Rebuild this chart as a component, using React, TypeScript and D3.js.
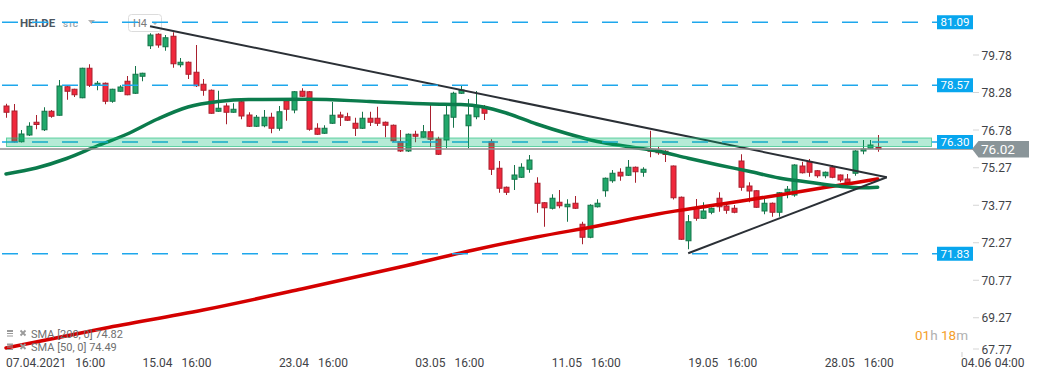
import React from 'react';
import * as d3 from 'd3';

// ---- data ----
const opens = [77.74,77.54,76.31,76.58,77.09,76.79,77.53,77.37,78.51,78.41,78.07,79.25,78.57,78.65,77.93,78.33,78.73,78.25,78.93,80.15,80.61,80.11,80.53,79.39,79.49,79.09,78.61,78.37,77.53,77.74,77.49,77.91,77.38,76.93,76.95,77.29,76.85,77.95,77.58,78.33,78.31,76.85,76.65,77.05,77.38,77.31,77.05,76.85,77.25,77.25,77.09,76.97,76.31,75.94,76.61,76.49,76.71,76.42,76.38,77.29,78.25,76.95,77.31,77.65,76.31,75.25,74.49,74.81,74.89,75.21,74.65,73.87,73.65,73.89,73.71,73.85,73.01,72.49,73.71,74.35,74.75,75.09,74.97,75.29,75.09,75.98,75.97,75.93,75.34,74.09,72.35,73.65,73.25,73.49,74.05,73.74,73.65,75.54,74.54,74.35,73.54,73.85,73.49,74.31,74.18,75.34,75.51,75.15,74.95,75.29,74.98,74.82,75.05,75.94,76.05,76.08];
const highs = [77.83,77.82,76.78,77.09,77.38,77.69,77.58,78.78,78.55,78.43,79.27,79.41,78.74,78.68,78.43,78.57,78.94,79.34,79.07,80.65,80.65,80.58,80.69,79.66,79.52,80.18,78.82,78.40,78.35,77.85,77.85,78.05,77.49,77.38,77.58,77.47,77.74,77.98,78.34,78.45,78.34,77.05,76.97,77.90,77.51,77.47,77.27,77.51,77.51,77.71,77.12,77.00,76.78,76.64,76.75,76.98,77.78,76.51,77.78,78.31,78.58,78.02,78.34,77.78,76.41,75.54,74.52,75.38,75.45,75.78,74.89,73.90,74.21,74.38,74.01,74.14,73.11,73.81,74.01,74.88,75.18,75.25,75.58,75.32,75.29,76.75,76.11,75.97,75.36,74.12,73.38,74.02,73.89,73.68,74.29,73.78,73.78,75.81,74.69,74.37,74.02,73.88,74.30,74.54,75.41,75.51,75.62,75.18,75.12,75.38,75.00,75.02,75.97,76.38,76.38,76.58];
const lows = [77.27,76.28,76.28,76.54,76.81,76.74,77.27,77.35,77.99,78.10,78.05,78.50,78.37,77.81,77.87,78.30,78.17,78.22,78.73,80.02,80.07,79.95,79.27,79.29,78.82,78.50,78.15,77.43,77.50,77.01,77.47,77.21,76.90,76.90,76.89,76.65,76.75,77.15,77.45,78.10,76.75,76.58,76.62,77.02,76.94,77.14,76.54,76.82,76.94,76.94,76.49,76.30,75.90,75.90,76.29,76.46,76.09,75.78,76.05,76.87,78.22,76.05,77.21,77.18,74.98,74.27,74.18,74.38,74.86,75.07,73.47,72.91,73.60,73.65,73.11,73.62,72.21,72.45,73.68,74.11,74.67,74.75,74.94,74.67,74.91,75.69,75.79,75.50,74.00,72.38,72.01,73.15,73.22,73.41,73.51,73.43,73.45,74.35,73.89,73.67,73.41,73.31,73.31,74.05,74.11,75.04,74.91,74.87,74.85,74.85,74.69,74.65,74.95,75.81,76.02,75.91];
const closes = [77.49,76.31,76.62,76.93,77.00,77.53,77.33,78.54,78.33,78.19,79.25,78.57,78.65,77.93,78.41,78.50,78.19,79.01,79.05,80.58,80.18,80.47,79.43,79.49,79.01,78.55,78.37,77.45,77.65,77.49,77.61,77.34,76.93,77.29,77.29,76.85,77.51,77.61,78.31,78.13,76.81,76.61,76.85,77.37,77.29,77.17,76.85,77.25,77.09,77.05,76.97,76.35,75.94,76.61,76.53,76.71,76.41,75.81,77.38,78.25,78.38,77.38,77.74,77.45,75.21,74.45,74.29,74.98,75.29,75.58,73.85,73.67,74.05,73.75,73.81,73.65,72.49,73.77,73.85,74.85,75.05,74.94,75.29,75.11,75.21,75.93,75.87,75.80,74.07,72.41,73.11,73.25,73.54,73.65,73.71,73.57,73.49,74.49,74.34,73.69,73.85,73.49,74.27,74.41,75.38,75.07,75.09,74.95,75.09,74.89,74.78,74.67,75.94,76.02,76.18,76.02];

const xLabelIdx = [0, 18, 36, 54, 72, 90, 108, 126];
const xLabelDates = ['07.04.2021', '15.04', '23.04', '03.05', '11.05', '19.05', '28.05', '04.06'];
const xLabelTimes = ['16:00', '16:00', '16:00', '16:00', '16:00', '16:00', '16:00', '04:00'];

const yTicks = [79.78, 78.28, 76.78, 75.27, 73.77, 72.27, 70.77, 69.27, 67.77];
const levels = [81.09, 78.57, 76.3, 71.83];
const zoneLow = 76.12;
const zoneHigh = 76.46;
const lastPrice = 76.02;

const sma50Idx = [0, 4, 8, 12, 16, 20, 24, 28, 32, 40, 48, 56, 60, 63, 66, 70, 74, 78, 82, 86, 90, 94, 98, 102, 106, 110, 113, 115];
const sma50Val = [75.02, 75.26, 75.64, 76.14, 76.62, 77.22, 77.7, 77.92, 78.0, 78.01, 77.92, 77.82, 77.8, 77.7, 77.46, 77.02, 76.64, 76.32, 76.12, 75.94, 75.65, 75.38, 75.13, 74.86, 74.69, 74.53, 74.47, 74.49];
const sma200Idx = [0, 13, 26, 39, 52, 62, 70, 78, 86, 94, 102, 108, 112, 115];
const sma200Val = [68.06, 68.85, 69.58, 70.42, 71.3, 72.0, 72.5, 72.94, 73.42, 73.8, 74.18, 74.48, 74.67, 74.82];

const upperTrendIdx = [19, 116.2];
const upperTrendVal = [80.93, 74.89];
const lowerTrendIdx = [90, 116.2];
const lowerTrendVal = [71.85, 74.89];

const smaLegend = ['SMA [200, 0] 74.82', 'SMA [50, 0] 74.49'];

const W = 1041;
const H = 380;
const FONT = 'Roboto, "Noto Sans", Arial, sans-serif';

export default function App() {
  const x = d3.scaleLinear().domain([0, 115]).range([6, 877.7]);
  const y = d3.scaleLinear().domain([67.77, 79.78]).range([355.25, 55]);

  const green = '#22a86b';
  const greenDark = '#16744a';
  const red = '#f0283c';
  const redDark = '#a8202e';

  const line = d3
    .line<[number, number]>()
    .x((d) => x(d[0]))
    .y((d) => y(d[1]))
    .curve(d3.curveMonotoneX);

  const sma50Path = line(sma50Idx.map((d, i) => [d, sma50Val[i]] as [number, number])) || '';
  const sma200Path = line(sma200Idx.map((d, i) => [d, sma200Val[i]] as [number, number])) || '';
  const straight = d3.line<[number, number]>().x((d) => x(d[0])).y((d) => y(d[1]));
  const upperPath = straight(upperTrendIdx.map((d, i) => [d, upperTrendVal[i]] as [number, number])) || '';
  const lowerPath = straight(lowerTrendIdx.map((d, i) => [d, lowerTrendVal[i]] as [number, number])) || '';

  const candles = opens.map((o, i) => {
    const c = closes[i];
    const up = c >= o;
    const cx = Math.round(x(i)) + 0.5;
    const top = y(Math.max(o, c));
    const bot = y(Math.min(o, c));
    const h = Math.max(1, bot - top);
    return (
      <g key={i}>
        <line x1={cx} x2={cx} y1={y(highs[i])} y2={y(lows[i])} stroke={up ? greenDark : redDark} strokeWidth={1} />
        <rect x={cx - 2.5} y={top} width={5} height={h} fill={up ? green : red} stroke={up ? greenDark : redDark} strokeWidth={1} />
      </g>
    );
  });

  const lvlColor = '#1ea7ec';
  const boxColor = '#08a6ee';
  const lastY = y(lastPrice);

  return (
    <svg width={W} height={H} style={{ position: 'absolute', left: 0, top: 0, background: '#fff' }} fontFamily={FONT}>
      <rect x={0} y={0} width={W} height={H} fill="#fff" />

      {/* top legend */}
      <text x={20} y={27} fontSize={11.5} fontWeight={700} fill="#4b5661">HEI.DE</text>
      <text x={63} y={27} fontSize={8} fontWeight={700} fill="#93a3ad">STC</text>
      <path d="M88,20 L95,20 L91.5,24 Z" fill="#b0b0b0" />
      <rect x={128.5} y={14.5} width={33} height={17} rx={3} fill="#fff" stroke="#dcdcdc" />
      <text x={133} y={27} fontSize={11} fill="#7a7a7a">H4</text>
      <path d="M152,22 L158,22 L155,25 Z" fill="#b0b0b0" />

      {/* candles */}
      <g>{candles}</g>

      {/* moving averages */}
      <path d={sma200Path} fill="none" stroke="#d40000" strokeWidth={3.5} strokeLinecap="round" />
      <path d={sma50Path} fill="none" stroke="#0b7b4c" strokeWidth={3.5} strokeLinecap="round" />

      {/* trend lines */}
      <path d={upperPath} fill="none" stroke="#2b3036" strokeWidth={2} />
      <path d={lowerPath} fill="none" stroke="#2b3036" strokeWidth={2} />

      {/* horizontal levels */}
      {levels.map((v) => (
        <line key={'l' + v} x1={2} x2={937} y1={y(v)} y2={y(v)} stroke={lvlColor} strokeWidth={1.5} strokeDasharray="16,14" />
      ))}

      {/* last price line */}
      <line x1={0} x2={973} y1={lastY} y2={lastY} stroke="#8e8e8e" strokeWidth={1.5} />

      {/* zone */}
      <rect x={6.5} y={y(zoneHigh)} width={925} height={y(zoneLow) - y(zoneHigh)} fill="rgba(0,186,114,0.29)" stroke="rgba(30,190,125,0.65)" strokeWidth={1} />

      {/* level labels */}
      {levels.map((v) => (
        <g key={'b' + v}>
          <rect x={937} y={y(v) - 7} width={36} height={14} fill={boxColor} />
          <text x={955} y={y(v) + 4} fontSize={11.5} fill="#fff" textAnchor="middle">{v.toFixed(2)}</text>
        </g>
      ))}

      {/* y axis ticks */}
      {yTicks.map((v) => {
        const ty = Math.min(y(v), 349);
        return (
          <g key={'t' + v}>
            <line x1={973} x2={979} y1={ty} y2={ty} stroke="#d5d5d5" strokeWidth={1} />
            <text x={981.5} y={ty + 4.5} fontSize={12} fill="#3f4347">{v.toFixed(2)}</text>
          </g>
        );
      })}

      {/* last price tag */}
      <path d={`M972,${lastY} L978.5,${lastY - 8} L1029,${lastY - 8} L1029,${lastY + 8.5} L978.5,${lastY + 8.5} Z`} fill="#8a9599" />
      <text x={981} y={lastY + 5} fontSize={13.5} fill="#fff">{lastPrice.toFixed(2)}</text>

      {/* x axis labels */}
      {xLabelIdx.map((idx, i) => {
        const lx = x(idx);
        const last = i === xLabelIdx.length - 1;
        return (
          <text key={'x' + idx} x={lx} y={366.5} fontSize={12} fill="#3f4347">
            {xLabelDates[i]}
            <tspan dx={last ? 3.5 : 9}>{xLabelTimes[i]}</tspan>
          </text>
        );
      })}
      <line x1={962} x2={962} y1={352} y2={357} stroke="#cfcfcf" />

      {/* SMA legend */}
      {smaLegend.map((t, i) => {
        const ly = 334 + i * 13.5;
        return (
          <g key={'s' + i}>
            <rect x={7} y={ly - 4} width={6} height={2} fill="#9a9a9a" />
            <line x1={7} x2={13} y1={ly - 0.5} y2={ly - 0.5} stroke="#9a9a9a" />
            <line x1={7} x2={13} y1={ly + 2} y2={ly + 2} stroke="#9a9a9a" />
            <path d={`M20.5,${ly - 3.5} L25.5,${ly + 1.5} M25.5,${ly - 3.5} L20.5,${ly + 1.5}`} stroke="#9a9a9a" strokeWidth={1.8} />
            <text x={31} y={ly + 3.5} fontSize={11} fill="#6f6f6f">{t}</text>
          </g>
        );
      })}

      {/* countdown */}
      <text x={915} y={340} fontSize={13.5}>
        <tspan fill="#f5a02c">01</tspan>
        <tspan fill="#b0b0b0">h </tspan>
        <tspan fill="#f5a02c">18</tspan>
        <tspan fill="#b0b0b0">m</tspan>
      </text>
    </svg>
  );
}
